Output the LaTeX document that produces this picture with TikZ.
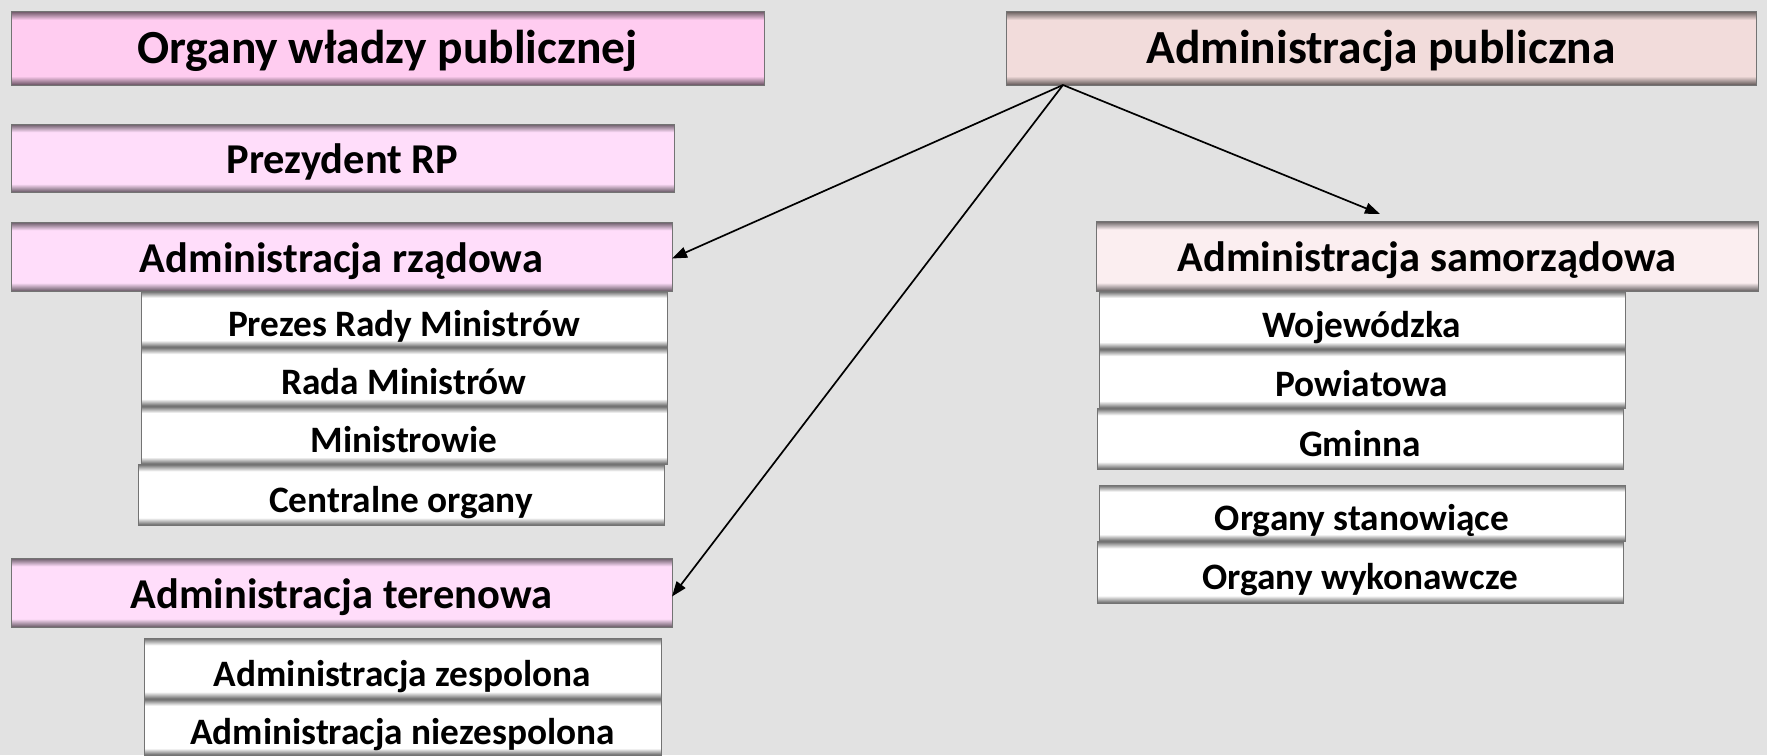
\documentclass[tikz,border=0pt]{standalone}
\usepackage{fontspec}
\setmainfont{Carlito}
\usetikzlibrary{arrows.meta}

\definecolor{bggrey}{RGB}{226,226,226}
\definecolor{pinkdeep}{RGB}{255,204,240}
\definecolor{pinklight}{RGB}{255,221,250}
\definecolor{beige}{RGB}{242,220,219}
\definecolor{blush}{RGB}{251,238,240}
\colorlet{boxfill}{white}

\pgfdeclareverticalshading[boxfill]{edgeshade}{100bp}{%
  color(0bp)=(boxfill!40!black); color(25bp)=(boxfill!40!black);
  color(31bp)=(boxfill); color(69bp)=(boxfill);
  color(75bp)=(boxfill!40!black); color(100bp)=(boxfill!40!black)}

\tikzset{
  boxfill/.code={\colorlet{boxfill}{#1}},
  box/.style={anchor=north west, inner sep=0pt, outer sep=0pt,
    draw=black!55, line width=0.8pt, shade, shading=edgeshade,
    font=\bfseries},
  titlebox/.style={box, text height=40pt, text depth=9.4pt,
    font=\fontsize{47.5}{50}\bfseries},
  headbox/.style={box, text height=38pt, text depth=6.6pt,
    font=\fontsize{42.5}{46}\bfseries},
  subbox/.style={box, boxfill=white, minimum width=526pt,
    text height=42pt, text depth=7pt, font=\fontsize{37.3}{40}\bfseries},
  link/.style={-{Triangle[length=15pt,width=11pt]}, line width=1.7pt}
}

\begin{document}
\begin{tikzpicture}[x=1pt,y=-1pt]
  \fill [bggrey] (0,0) rectangle (1767,755);

  % left column
  \node [titlebox, boxfill=pinkdeep, minimum width=753pt, minimum height=74pt]
    (organy) at (11,11) {Organy władzy publicznej};
  \node [headbox, boxfill=pinklight, minimum width=663pt, minimum height=68pt]
    (prez) at (11,124) {Prezydent RP};
  \node [headbox, boxfill=pinklight, minimum width=661pt, minimum height=69pt]
    (rzad) at (11,222) {Administracja rządowa};
  \node [subbox, minimum height=56pt] (rz1) at (141,291) {Prezes Rady Ministrów};
  \node [subbox, minimum height=59pt] (rz2) at (141,347) {Rada Ministrów};
  \node [subbox, minimum height=58pt] (rz3) at (141,406) {Ministrowie};
  \node [subbox, minimum height=61pt] (rz4) at (138,464) {Centralne organy};

  \node [headbox, boxfill=pinklight, minimum width=661pt, minimum height=69pt]
    (teren) at (11,558) {Administracja terenowa};
  \node [subbox, minimum width=517pt, minimum height=61pt] (te1) at (144,638)
    {Administracja zespolona};
  \node [subbox, minimum width=517pt, minimum height=56pt] (te2) at (144,699)
    {Administracja niezespolona};

  % right column
  \node [titlebox, boxfill=beige, minimum width=750pt, minimum height=74pt]
    (publ) at (1006,11) {Administracja publiczna};
  \node [headbox, boxfill=blush, minimum width=662pt, minimum height=70pt]
    (samo) at (1096,221) {Administracja samorządowa};
  \node [subbox, minimum height=58pt] (sa1) at (1099,291) {Wojewódzka};
  \node [subbox, minimum height=59pt] (sa2) at (1099,349) {Powiatowa};
  \node [subbox, minimum height=61pt] (sa3) at (1097,408) {Gminna};
  \node [subbox, minimum height=56pt] (sa4) at (1099,485) {Organy stanowiące};
  \node [subbox, minimum height=62pt] (sa5) at (1097,541) {Organy wykonawcze};

  \coordinate (src) at ([xshift=57pt]publ.south west);
  \draw [link] (src) -- ([yshift=-2pt]rzad.east);
  \draw [link] (src) -- ([yshift=-4pt]teren.east);
  \draw [link] (src) -- ([xshift=-47pt,yshift=7pt]samo.north);
\end{tikzpicture}
\end{document}
